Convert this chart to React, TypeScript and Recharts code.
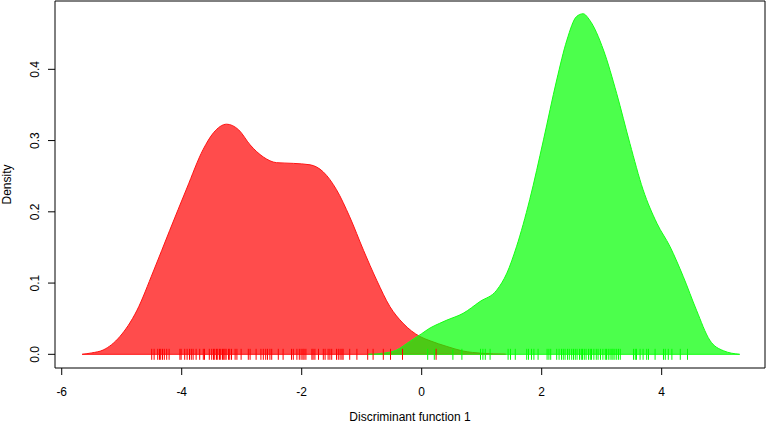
import React from 'react';
import { ComposedChart, Area, Scatter, XAxis, YAxis, ReferenceArea, ReferenceLine } from 'recharts';

// Density estimate of group 1 (red)
const redX = [-5.66, -5.5, -5.31, -5.03, -4.75, -4.47, -4.2, -3.92, -3.64, -3.47, -3.25, -3.05, -2.86, -2.64, -2.42, -2.14, -1.86, -1.64, -1.42, -1.2, -0.97, -0.75, -0.53, -0.31, -0.03, 0.14, 0.42, 0.69, 1.0, 1.4];
const redY = [0, 0.002, 0.006, 0.025, 0.061, 0.117, 0.174, 0.232, 0.288, 0.311, 0.323, 0.315, 0.294, 0.277, 0.269, 0.268, 0.266, 0.256, 0.231, 0.193, 0.146, 0.104, 0.067, 0.0435, 0.025, 0.019, 0.011, 0.0046, 0.0015, 0];

// Density estimate of group 2 (green)
const greenX = [-0.9, -0.6, -0.42, -0.2, 0.0, 0.14, 0.3, 0.42, 0.69, 0.97, 1.25, 1.42, 1.58, 1.8, 2.03, 2.25, 2.42, 2.58, 2.69, 2.8, 3.03, 3.25, 3.47, 3.69, 3.92, 4.14, 4.36, 4.58, 4.8, 5.03, 5.3];
const greenY = [0, 0.002, 0.006, 0.018, 0.029, 0.037, 0.0435, 0.048, 0.0575, 0.074, 0.09, 0.114, 0.151, 0.217, 0.301, 0.385, 0.441, 0.474, 0.478, 0.469, 0.427, 0.366, 0.296, 0.231, 0.184, 0.151, 0.109, 0.062, 0.02, 0.005, 0];

// Rug: individual discriminant scores
const redRug = [-4.5, -4.46, -4.4, -4.37, -4.35, -4.32, -4.29, -4.25, -4.21, -4.03, -4.01, -3.95, -3.91, -3.87, -3.84, -3.81, -3.76, -3.7, -3.64, -3.62, -3.54, -3.5, -3.47, -3.45, -3.42, -3.4, -3.37, -3.35, -3.32, -3.3, -3.28, -3.26, -3.22, -3.2, -3.17, -3.11, -3.08, -3.01, -2.89, -2.86, -2.76, -2.68, -2.64, -2.6, -2.57, -2.53, -2.5, -2.39, -2.31, -2.17, -2.14, -2.08, -2.04, -2.01, -1.98, -1.96, -1.93, -1.83, -1.81, -1.78, -1.72, -1.64, -1.61, -1.56, -1.53, -1.5, -1.42, -1.39, -1.36, -1.33, -1.31, -1.2, -1.08, -0.9, -0.81, -0.64, -0.52, -0.32, 0.24];
const greenRug = [0.1, 0.21, 0.52, 0.67, 0.98, 1.02, 1.06, 1.14, 1.44, 1.48, 1.56, 1.75, 1.78, 1.83, 1.87, 1.94, 2.09, 2.12, 2.15, 2.25, 2.29, 2.33, 2.36, 2.39, 2.43, 2.46, 2.5, 2.53, 2.56, 2.59, 2.63, 2.66, 2.68, 2.71, 2.74, 2.78, 2.81, 2.83, 2.87, 2.91, 2.94, 2.98, 3.02, 3.06, 3.08, 3.11, 3.14, 3.17, 3.19, 3.22, 3.25, 3.28, 3.31, 3.53, 3.56, 3.58, 3.64, 3.69, 3.75, 3.78, 3.89, 4.03, 4.06, 4.11, 4.17, 4.31, 4.43];

const xTicks = [-6, -4, -2, 0, 2, 4];
const yTicks = [0, 0.1, 0.2, 0.3, 0.4];
const xDomain: [number, number] = [-6.112, 5.722];
const yDomain: [number, number] = [-0.0192, 0.4959];

const FONT = '"Liberation Sans", Arial, Helvetica, sans-serif';

const areaRows = [
  ...redX.map((x, i) => ({ x, red: redY[i] })),
  ...greenX.map((x, i) => ({ x, green: greenY[i] })),
].sort((a, b) => a.x - b.x);

const redRugRows = redRug.map((x) => ({ x, y: 0 }));
const greenRugRows = greenRug.map((x) => ({ x, y: 0 }));

const makeRug = (color: string) => (props: any) => {
  const { cx, cy } = props;
  if (cx == null || cy == null) return <g />;
  return <line x1={cx} x2={cx} y1={cy - 5.5} y2={cy + 5.5} stroke={color} strokeWidth={1} />;
};

const XTick = (props: any) => {
  const { x, y, payload } = props;
  return (
    <text x={x} y={y} dy={8.5} textAnchor="middle" fontSize={12} fontFamily={FONT} fill="#000">
      {payload.value}
    </text>
  );
};

const YTick = (props: any) => {
  const { x, y, payload } = props;
  return (
    <text x={0} y={0} transform={`translate(${x}, ${y}) rotate(-90)`} textAnchor="middle" fontSize={12} fontFamily={FONT} fill="#000">
      {Number(payload.value).toFixed(1)}
    </text>
  );
};

const YTitle = (props: any) => {
  const vb = props.viewBox || { x: 0, y: 1, width: 55, height: 367 };
  const cy = vb.y + vb.height / 2;
  return (
    <text x={0} y={0} transform={`translate(11, ${cy}) rotate(-90)`} textAnchor="middle" fontSize={12} fontFamily={FONT} fill="#000">
      Density
    </text>
  );
};

const XTitle = (props: any) => {
  const vb = props.viewBox || { x: 55, y: 368, width: 710, height: 55 };
  return (
    <text x={vb.x + vb.width / 2} y={421} textAnchor="middle" fontSize={12} fontFamily={FONT} fill="#000">
      Discriminant function 1
    </text>
  );
};

export default function App() {
  return (
    <div style={{ position: 'absolute', left: 0, top: 0, width: 767, height: 423, background: '#fff' }}>
      <ComposedChart width={767} height={423} data={areaRows} margin={{ top: 1, right: 2, bottom: 0, left: 0 }}>
        <XAxis
          dataKey="x"
          type="number"
          domain={xDomain}
          allowDataOverflow
          ticks={xTicks}
          interval={0}
          height={55}
          axisLine={false}
          tickLine={{ stroke: '#000' }}
          tickSize={7}
          tickMargin={12}
          tick={<XTick />}
          label={<XTitle />}
        />
        <YAxis
          type="number"
          domain={yDomain}
          allowDataOverflow
          ticks={yTicks}
          interval={0}
          width={55}
          axisLine={false}
          tickLine={{ stroke: '#000' }}
          tickSize={7}
          tickMargin={9}
          tick={<YTick />}
          label={<YTitle />}
        />
        <Area
          type="monotone"
          dataKey="red"
          connectNulls
          baseValue={0}
          fill="rgb(255,0,0)"
          fillOpacity={0.7}
          stroke="rgb(255,20,20)"
          strokeWidth={1}
          dot={false}
          activeDot={false}
          isAnimationActive={false}
        />
        <ReferenceLine
          segment={[{ x: redX[0], y: 0 }, { x: redX[redX.length - 1], y: 0 }]}
          stroke="rgb(255,20,20)"
          strokeWidth={1}
        />
        <Area
          type="monotone"
          dataKey="green"
          connectNulls
          baseValue={0}
          fill="rgb(0,255,0)"
          fillOpacity={0.7}
          stroke="rgb(20,255,20)"
          strokeWidth={1}
          dot={false}
          activeDot={false}
          isAnimationActive={false}
        />
        <ReferenceLine
          segment={[{ x: greenX[0], y: 0 }, { x: greenX[greenX.length - 1], y: 0 }]}
          stroke="rgb(20,255,20)"
          strokeWidth={1}
        />
        <Scatter data={redRugRows} dataKey="y" shape={makeRug('#ff0000')} isAnimationActive={false} />
        <Scatter data={greenRugRows} dataKey="y" shape={makeRug('#00ff00')} isAnimationActive={false} />
        <ReferenceArea
          x1={xDomain[0]}
          x2={xDomain[1]}
          y1={yDomain[0]}
          y2={yDomain[1]}
          fill="none"
          stroke="#000"
          strokeWidth={1}
          ifOverflow="visible"
        />
      </ComposedChart>
    </div>
  );
}
